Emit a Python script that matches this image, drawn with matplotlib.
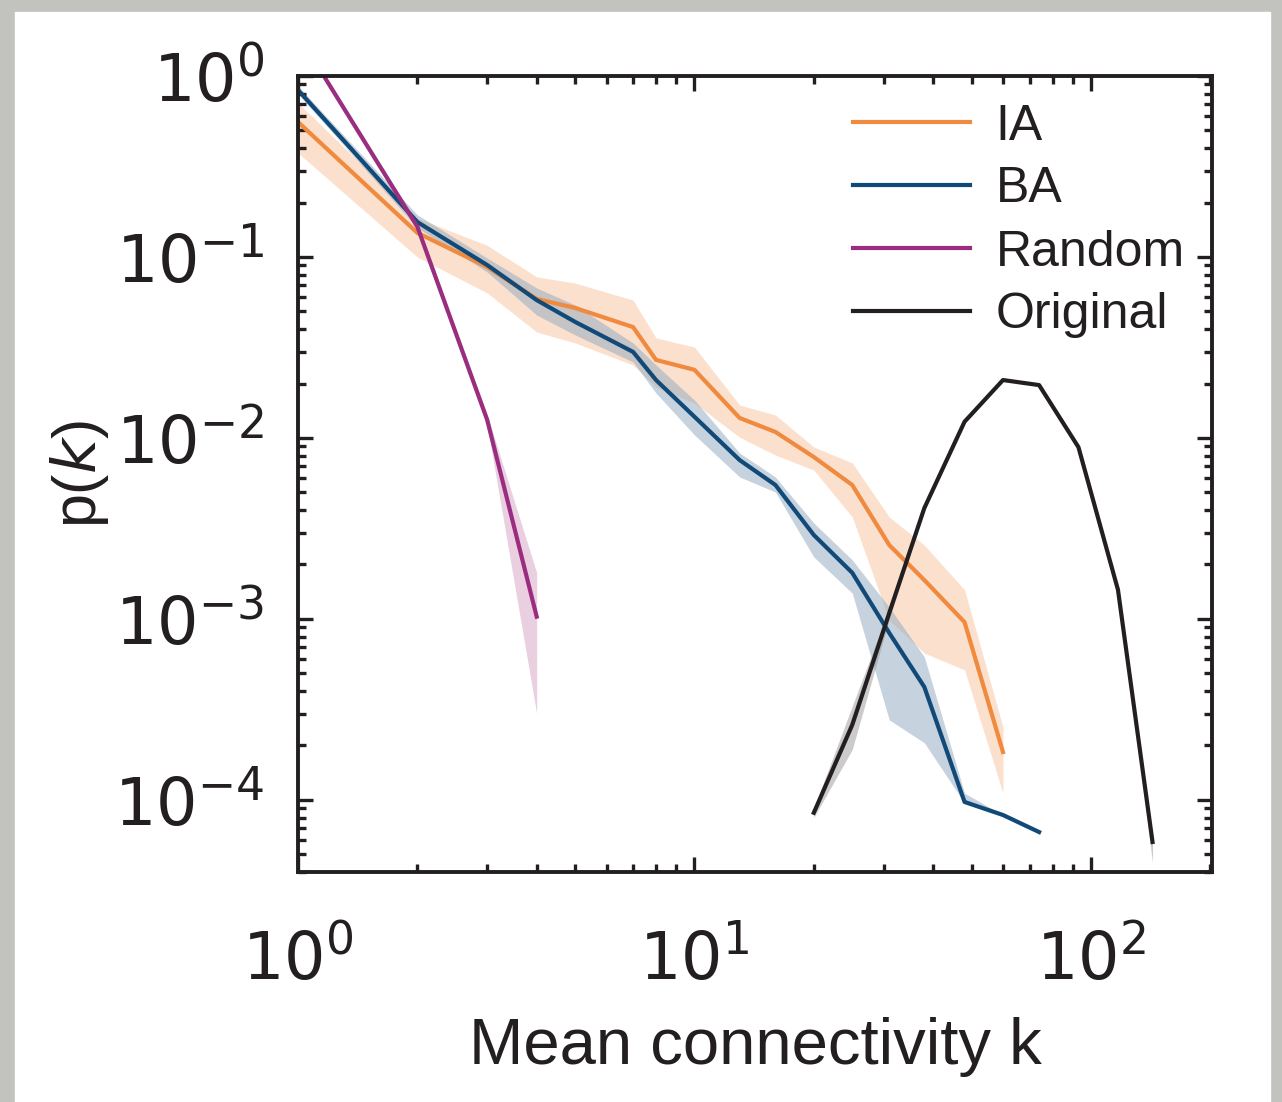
import numpy as np
import matplotlib
matplotlib.use('Agg')
import matplotlib.pyplot as plt
from matplotlib.patches import Rectangle
from matplotlib.ticker import FixedLocator, FixedFormatter, LogLocator, NullFormatter

# fonts
plt.rcParams['font.family'] = ['Liberation Sans Narrow', 'Liberation Sans', 'DejaVu Sans']
plt.rcParams['mathtext.fontset'] = 'custom'
plt.rcParams['mathtext.rm'] = 'Liberation Sans Narrow'
plt.rcParams['mathtext.it'] = 'Liberation Sans Narrow:italic'

# data
k_ia = [1, 2, 3, 4, 5, 7, 8, 10, 13, 16, 20, 25, 31, 38, 48, 60]
p_ia = [0.557, 0.136, 0.0881, 0.0586, 0.0523, 0.0410, 0.0270, 0.0238, 0.0129, 0.0108,
        0.00785, 0.00550, 0.00256, 0.00164, 0.00096, 0.000184]
ia_hi = [0.71, 0.164, 0.116, 0.0776, 0.0718, 0.0578, 0.0357, 0.0318, 0.0152, 0.0134,
         0.00892, 0.00728, 0.00366, 0.00256, 0.00145, 0.000253]
ia_lo = [0.376, 0.100, 0.0633, 0.0385, 0.0335, 0.0253, 0.0191, 0.0156, 0.0101, 0.00805,
         0.00665, 0.00366, 0.000987, 0.000648, 0.000523, 0.000109]

k_ba = [1, 2, 3, 4, 5, 7, 8, 10, 13, 16, 20, 25, 31, 38, 48, 60, 74]
p_ba = [0.837, 0.156, 0.0903, 0.0578, 0.0438, 0.0299, 0.0209, 0.0131, 0.00755, 0.00550,
        0.00291, 0.00180, 0.000837, 0.000421, 9.75e-5, 8.26e-5, 6.65e-5]
ba_hi = [0.881, 0.171, 0.0987, 0.0674, 0.0543, 0.0335, 0.0253, 0.0162, 0.00826, 0.00609,
         0.00339, 0.00212, 0.00116, 0.000617, 0.000109, 8.26e-5, 6.65e-5]
ba_lo = [0.796, 0.145, 0.0826, 0.0478, 0.0371, 0.0263, 0.0177, 0.0104, 0.00609, 0.00503,
         0.00220, 0.00139, 0.000277, 0.000207, 9.62e-5, 8.26e-5, 6.65e-5]

k_rand = [1, 2, 3, 4]
p_rand = [1.7, 0.147, 0.0126, 0.00103]
rand_hi = [1.7, 0.155, 0.0135, 0.0018]
rand_lo = [1.7, 0.140, 0.0118, 0.0003]

k_orig = [20, 25, 31, 38, 48, 60, 74, 93, 117, 143]
p_orig = [8.5e-5, 2.6e-4, 1.08e-3, 4.1e-3, 0.0123, 0.0209, 0.0196, 0.0089, 0.00145, 5.86e-5]
orig_hi = [9e-5, 3.3e-4, 1.15e-3, 4.2e-3, 0.0125, 0.021, 0.0197, 0.009, 0.00147, 6e-5]
orig_lo = [8e-5, 1.9e-4, 1.0e-3, 4.0e-3, 0.0121, 0.0208, 0.0195, 0.0088, 0.00142, 4.5e-5]

c_ia = '#ef8a3e'
c_ba = '#114a78'
c_rand = '#9a2d7f'
c_orig = '#231f20'

fig = plt.figure(figsize=(12.82, 11.02), dpi=100, facecolor='#c2c2be')
fig.patches.append(Rectangle((15 / 1282, 0), 1255 / 1282, 1090 / 1102,
                             transform=fig.transFigure, color='white', zorder=-10))
ax = fig.add_axes([298 / 1282, 1 - 872 / 1102, 914 / 1282, 796 / 1102])
ax.set_zorder(1)

# shaded bands
ax.fill_between(k_ia, ia_lo, ia_hi, color='#fbd9c2', alpha=0.8, lw=0)
ax.fill_between(k_ba, ba_lo, ba_hi, color='#8ea7bd', alpha=0.5, lw=0)
ax.fill_between(k_rand, rand_lo, rand_hi, color='#d8a9c8', alpha=0.55, lw=0)
ax.fill_between(k_orig, orig_lo, orig_hi, color='#999999', alpha=0.5, lw=0)

lw = 3.0
ax.plot(k_ia, p_ia, color=c_ia, lw=lw, label='IA')
ax.plot(k_ba, p_ba, color=c_ba, lw=lw, label='BA')
ax.plot(k_rand, p_rand, color=c_rand, lw=lw, label='Random')
ax.plot(k_orig, p_orig, color=c_orig, lw=lw, label='Original')

ax.set_xscale('log')
ax.set_yscale('log')
ax.set_xlim(1, 202)
ax.set_ylim(4e-5, 1)

ax.xaxis.set_major_locator(FixedLocator([1, 10, 100]))
ax.xaxis.set_major_formatter(FixedFormatter([r'$\mathrm{10^{%d}}$' % e for e in [0, 1, 2]]))
ax.yaxis.set_major_locator(FixedLocator([1e-4, 1e-3, 1e-2, 1e-1, 1]))
ax.yaxis.set_major_formatter(FixedFormatter([r'$\mathrm{10^{%d}}$' % e for e in [-4, -3, -2, -1, 0]]))
for a in (ax.xaxis, ax.yaxis):
    a.set_minor_locator(LogLocator(base=10, subs=np.arange(2, 10), numticks=20))
    a.set_minor_formatter(NullFormatter())

ax.tick_params(which='both', direction='in', top=True, right=True, width=2.4, colors='#231f20')
ax.tick_params(which='major', length=11, labelsize=47)
ax.tick_params(which='minor', length=6)
ax.tick_params(axis='x', pad=40)
ax.tick_params(axis='y', pad=24)
for s in ax.spines.values():
    s.set_linewidth(2.8)
    s.set_color('#231f20')

ax.set_xlabel('Mean connectivity k', fontsize=47, family=['Liberation Sans', 'DejaVu Sans'],
              labelpad=18, color='#231f20')
ax.set_ylabel(r'p($\it{k}$)', fontsize=44, family=['Liberation Sans', 'DejaVu Sans'],
              labelpad=2, color='#231f20')

leg = ax.legend(loc='upper right', frameon=False, handlelength=2.35, handletextpad=0.5,
                labelspacing=0.34, borderaxespad=0.15,
                prop={'family': ['Liberation Sans', 'DejaVu Sans'], 'size': 36})
for t in leg.get_texts():
    t.set_color('#231f20')

fig.savefig('out.png', dpi=100, facecolor=fig.get_facecolor())
